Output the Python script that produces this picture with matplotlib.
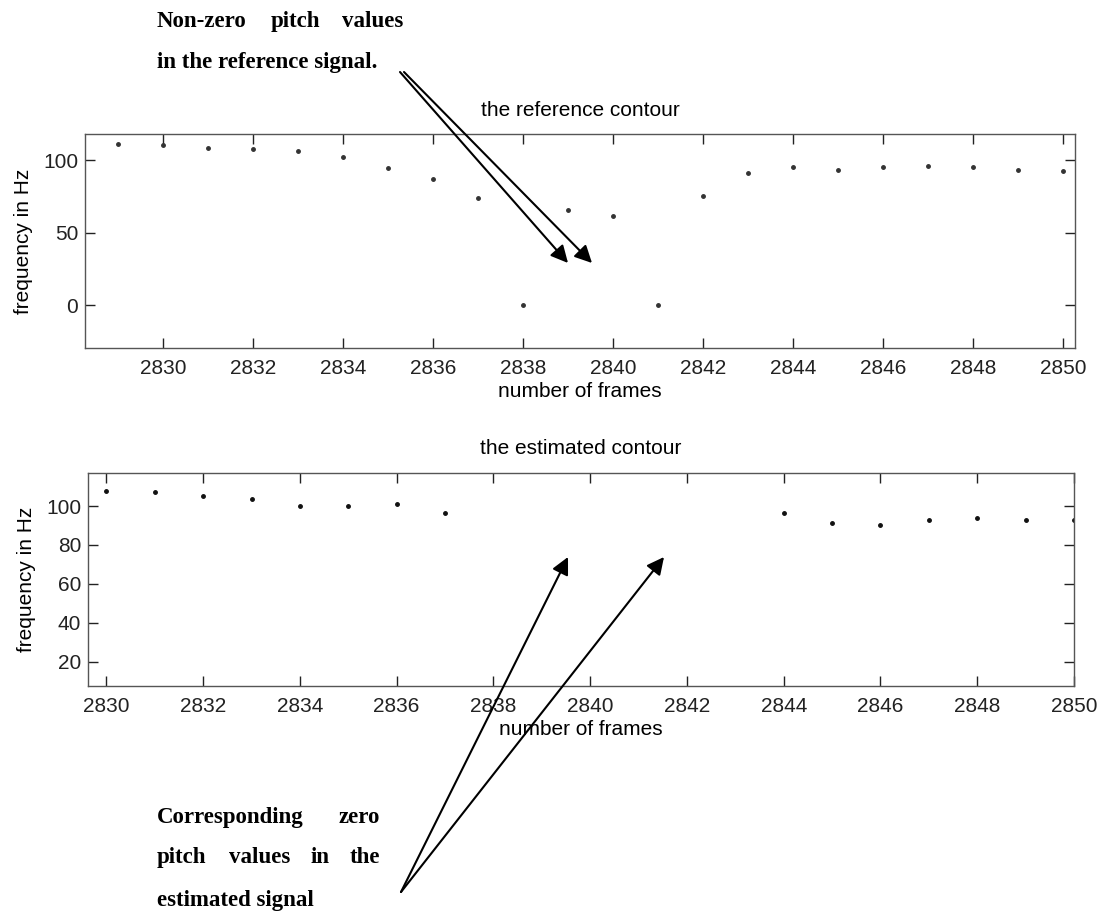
import matplotlib
matplotlib.use("Agg")
import matplotlib.pyplot as plt
import numpy as np

# reference pitch contour (frames 2829..2850), 0 = unvoiced
ref_frames = np.arange(2829, 2851)
ref_pitch = [111.2, 110.3, 108.2, 107.6, 106.0, 102.3, 94.3, 87.0, 73.7, 0.0, 65.7,
             61.8, 0.0, 75.0, 91.3, 95.0, 93.3, 95.6, 96.3, 95.0, 93.3, 92.6]

# estimated contour, frames 2838..2843 missing (zero pitch)
est_frames = [2830, 2831, 2832, 2833, 2834, 2835, 2836, 2837,
              2844, 2845, 2846, 2847, 2848, 2849, 2850]
est_pitch = [107.5, 107.0, 105.0, 103.8, 100.0, 100.0, 101.0, 96.6,
             96.6, 91.1, 90.1, 92.8, 93.8, 92.8, 92.8]

W, H = 1104, 913
plt.rcParams["font.family"] = ["Liberation Sans", "DejaVu Sans"]
fig = plt.figure(figsize=(W / 100, H / 100), dpi=100)


def frac(x, y):
    return x / W, 1 - y / H


def style(ax):
    ax.tick_params(direction="in", length=7, width=1, top=True, right=True,
                   labelsize=15, colors="#222", pad=8)
    ax.tick_params(axis="y", pad=5)
    for s in ax.spines.values():
        s.set_color("#555")
        s.set_linewidth(1)


ax1 = fig.add_axes([85 / W, 1 - 348 / H, 990 / W, 214 / H])
ax1.plot(ref_frames, ref_pitch, ".", color="#333", markersize=5)
ax1.set_xlim(2828.27, 2850.26)
ax1.set_ylim(-29.4, 118)
ax1.set_xticks(np.arange(2830, 2851, 2))
ax1.set_yticks([0, 50, 100])
ax1.set_title("the reference contour", fontsize=15, pad=13)
ax1.set_xlabel("number of frames", fontsize=15, labelpad=3)
ax1.set_ylabel("frequency in Hz", fontsize=15, labelpad=7)
style(ax1)

ax2 = fig.add_axes([88 / W, 1 - 686 / H, 986 / W, 213 / H])
ax2.plot(est_frames, est_pitch, ".", color="#111", markersize=5)
ax2.set_xlim(2829.62, 2850)
ax2.set_ylim(7.5, 117)
ax2.set_xticks(np.arange(2830, 2851, 2))
ax2.set_yticks([20, 40, 60, 80, 100])
ax2.set_title("the estimated contour", fontsize=15, pad=14)
ax2.set_xlabel("number of frames", fontsize=15, labelpad=3)
ax2.set_ylabel("frequency in Hz", fontsize=15, labelpad=7)
style(ax2)

# bold serif notes, justified word by word
serif = dict(family=["Liberation Serif", "DejaVu Serif"], fontsize=16.5,
             fontweight="bold", va="baseline")
notes = [
    (27, [(157, "Non-zero", "left"), (271, "pitch", "left"), (403, "values", "right")]),
    (68, [(157, "in the reference signal.", "left")]),
    (823, [(157, "Corresponding", "left"), (380, "zero", "right")]),
    (863, [(157, "pitch", "left"), (229, "values", "left"), (311, "in", "left"),
           (380, "the", "right")]),
    (906, [(157, "estimated signal", "left")]),
]
for y, words in notes:
    for x, w, ha in words:
        fig.text(*frac(x, y), w, ha=ha, **serif)

arrow = dict(arrowstyle="-|>", mutation_scale=26, lw=1.5, color="k",
             shrinkA=0, shrinkB=0)
for tip, start in [((568, 263), (400, 72)), ((592, 263), (404, 72)),
                   ((568, 557), (401, 892)), ((664, 557), (401, 892))]:
    fig.add_artist(matplotlib.patches.FancyArrowPatch(
        frac(*start), frac(*tip), transform=fig.transFigure, **arrow))

plt.savefig("out.png", dpi=100)
